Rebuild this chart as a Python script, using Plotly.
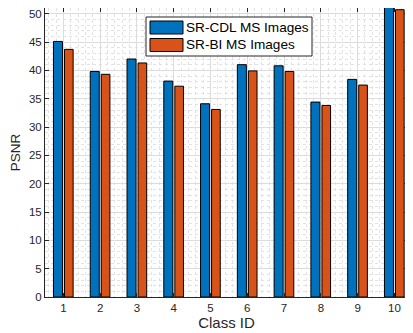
import plotly.graph_objects as go

classes = [1, 2, 3, 4, 5, 6, 7, 8, 9, 10]
cdl_psnr = [45.1, 39.8, 42.0, 38.1, 34.1, 41.0, 40.8, 34.4, 38.4, 51.5]
bi_psnr = [43.7, 39.3, 41.3, 37.2, 33.1, 39.9, 39.8, 33.8, 37.4, 50.7]
series_names = ["SR-CDL MS Images", "SR-BI MS Images"]
y_ticks = [0, 5, 10, 15, 20, 25, 30, 35, 40, 45, 50]

BLUE = "#0072BD"
ORANGE = "#D95319"
AX = "#262626"
FONT = "Liberation Sans, Arial, sans-serif"

fig = go.Figure()
fig.add_trace(go.Bar(x=classes, y=cdl_psnr, name=series_names[0], width=0.245, offset=-0.27,
                     marker=dict(color=BLUE, line=dict(color="black", width=1)), showlegend=False))
fig.add_trace(go.Bar(x=classes, y=bi_psnr, name=series_names[1], width=0.235, offset=0.03,
                     marker=dict(color=ORANGE, line=dict(color="black", width=1)), showlegend=False))

# page body has an 8px margin; figure sized to fit the window
OFF = 8
W, H = 405, 325
ml, mr, mt, mb = 37, 5, 0, 36
fig.update_layout(
    width=W, height=H,
    margin=dict(l=ml, r=mr, t=mt, b=mb),
    plot_bgcolor="white", paper_bgcolor="white",
    font=dict(family=FONT, color=AX, size=11.5),
    barmode="overlay",
    xaxis=dict(range=[0.5, 10.37], tickvals=classes, ticks="inside", ticklen=4, tickcolor=AX,
               showline=True, linecolor=AX, linewidth=1, mirror="ticks",
               showgrid=True, gridcolor="#dcdcdc", gridwidth=1, zeroline=False,
               ticklabeloverflow="allow",
               minor=dict(dtick=0.2, showgrid=True, gridcolor="#e2e2e2", griddash="dot", gridwidth=1, ticks=""),
               title=dict(text="Class ID", font=dict(size=15, color=AX), standoff=4)),
    yaxis=dict(range=[0, 51], tickvals=y_ticks, ticks="inside", ticklen=4, tickcolor=AX,
               showline=True, linecolor=AX, linewidth=1, mirror="ticks",
               showgrid=True, gridcolor="#dcdcdc", gridwidth=1, zeroline=False,
               ticklabeloverflow="allow",
               minor=dict(dtick=1, showgrid=True, gridcolor="#e2e2e2", griddash="dot", gridwidth=1, ticks=""),
               title=dict(text="PSNR", font=dict(size=13.5, color=AX), standoff=5)),
)

# Custom legend (MATLAB-style wide swatches), positions given in screen pixels
pw = W - ml - mr
ph = H - mt - mb
def px(x):
    return (x - OFF - ml) / pw
def py(y):
    return 1 - (y - OFF - mt) / ph

fig.add_shape(type="rect", xref="paper", yref="paper", x0=px(146), x1=px(312), y0=py(56), y1=py(17),
              fillcolor="white", line=dict(color=AX, width=1), layer="above")
for i, (name, col) in enumerate(zip(series_names, [BLUE, ORANGE])):
    yc = 27.5 + i * 17.5
    fig.add_shape(type="rect", xref="paper", yref="paper", x0=px(150), x1=px(183),
                  y0=py(yc + 6.5), y1=py(yc - 6.5), fillcolor=col,
                  line=dict(color="black", width=1), layer="above")
    fig.add_annotation(xref="paper", yref="paper", x=px(184), y=py(yc), text=name,
                       showarrow=False, xanchor="left", yanchor="middle",
                       font=dict(size=13.6, color="black", family=FONT))

fig.write_html("out.html")
